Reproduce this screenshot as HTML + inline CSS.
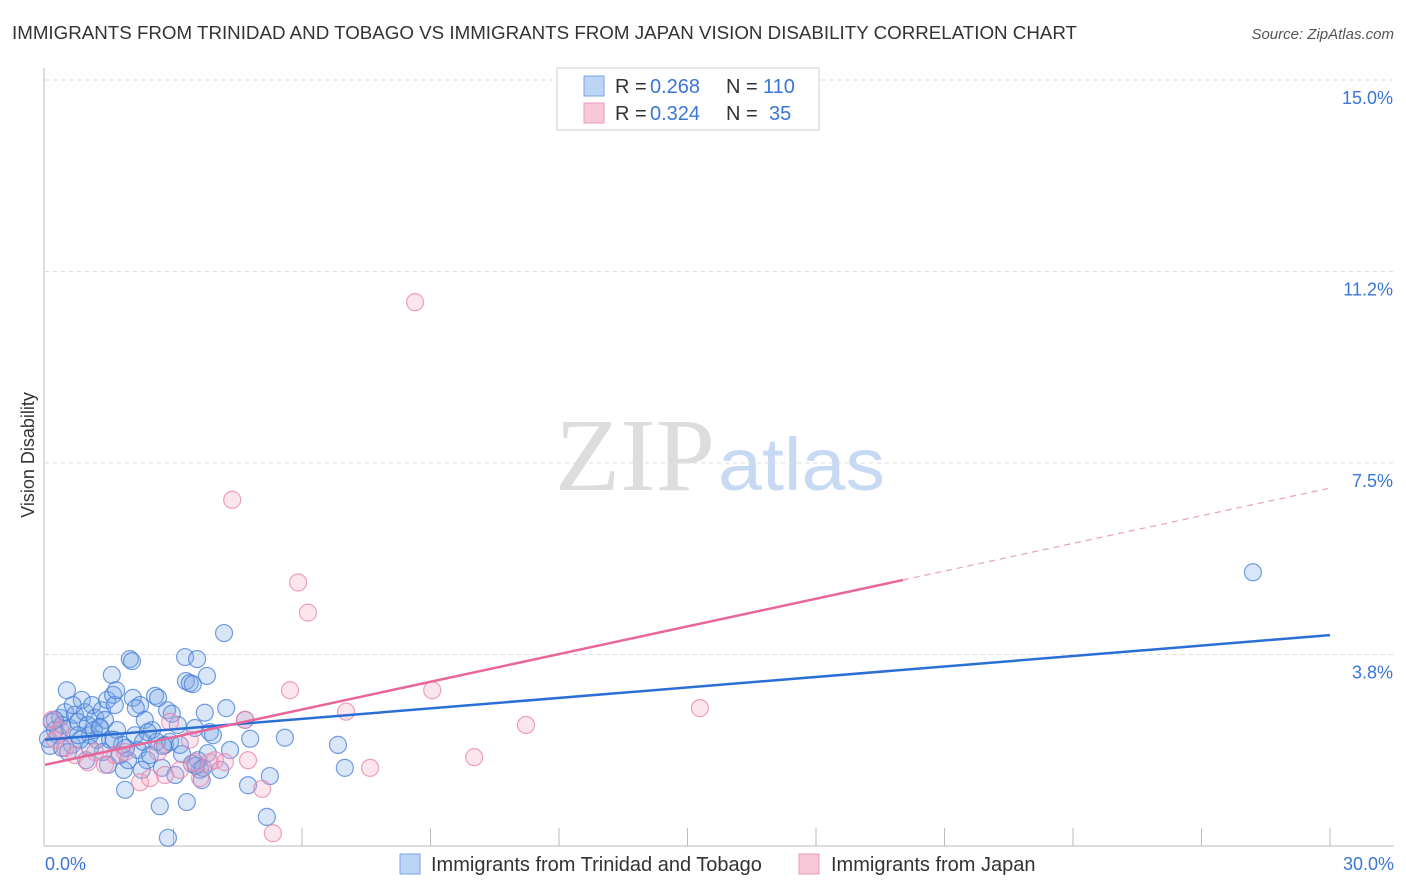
<!DOCTYPE html>
<html><head><meta charset="utf-8"><style>
body{margin:0;background:#fff;font-family:"Liberation Sans",sans-serif;}
svg{display:block}
</style></head><body>
<svg id="chart" width="1406" height="892" xmlns="http://www.w3.org/2000/svg" font-family="Liberation Sans, sans-serif">
<text x="12" y="39" font-size="18" fill="#333" textLength="1065" lengthAdjust="spacingAndGlyphs">IMMIGRANTS FROM TRINIDAD AND TOBAGO VS IMMIGRANTS FROM JAPAN VISION DISABILITY CORRELATION CHART</text>
<text x="1394" y="39" font-size="15" fill="#555" font-style="italic" text-anchor="end">Source: ZipAtlas.com</text>
<text transform="translate(34,455) rotate(-90)" font-size="18" fill="#333" text-anchor="middle">Vision Disability</text>
<text x="555" y="490" font-size="104" fill="#ddd" textLength="160" lengthAdjust="spacingAndGlyphs" font-family="Liberation Serif, serif">ZIP</text>
<text x="718" y="490" font-size="74" fill="#c8daf3" textLength="167" lengthAdjust="spacingAndGlyphs">atlas</text>
<g id="grid"></g>
<g id="axes"></g>
<g id="points"></g>
<g id="trends"></g>
<g>
<rect x="557" y="68" width="262" height="62" fill="#fff" stroke="#ccc"/>
<rect x="584" y="76" width="20" height="20" fill="#bcd4f5" stroke="#7aa5e3"/>
<rect x="584" y="103" width="20" height="20" fill="#f8c8d8" stroke="#ec9bb7"/>
<text x="615" y="93" font-size="20" fill="#333">R =</text>
<text x="650" y="93" font-size="20" fill="#3a76d6">0.268</text>
<text x="726" y="93" font-size="20" fill="#333">N =</text>
<text x="763" y="93" font-size="20" fill="#3a76d6">110</text>
<text x="615" y="120" font-size="20" fill="#333">R =</text>
<text x="650" y="120" font-size="20" fill="#3a76d6">0.324</text>
<text x="726" y="120" font-size="20" fill="#333">N =</text>
<text x="769" y="120" font-size="20" fill="#3a76d6">35</text>
</g>
<g>
<rect x="400" y="854" width="20" height="20" fill="#bcd4f5" stroke="#7aa5e3"/>
<text x="431" y="871" font-size="20" fill="#333">Immigrants from Trinidad and Tobago</text>
<rect x="799" y="854" width="20" height="20" fill="#f8c8d8" stroke="#ec9bb7"/>
<text x="831" y="871" font-size="20" fill="#333">Immigrants from Japan</text>
</g>
</svg>
<script>
const yTicks=[3.75,7.5,11.25,15];
const yTickLabels=["3.8%","7.5%","11.2%","15.0%"];
const xTickLabels=["0.0%","30.0%"];
const blueX=[0.16,0.23,0.30,0.35,0.40,0.47,0.51,0.58,0.63,0.70,0.77,0.82,0.86,0.93,1.00,1.05,1.10,1.17,1.21,1.28,1.33,1.40,1.45,1.52,1.56,1.59,1.63,1.68,1.75,1.80,1.84,1.87,1.94,1.98,2.03,2.05,2.10,2.17,2.22,2.29,2.33,2.38,2.45,2.50,2.57,2.61,2.68,2.73,2.80,2.85,2.87,2.92,3.04,3.10,3.15,3.27,3.29,3.31,3.38,3.45,3.50,3.55,3.57,3.62,3.66,3.73,3.78,3.85,3.92,4.09,4.18,4.23,4.32,4.67,4.74,4.79,5.18,5.25,5.60,6.84,7.00,28.20,0.07,0.12,0.23,0.40,0.54,0.65,0.96,1.14,1.35,1.47,1.66,1.89,2.12,2.26,2.40,2.64,2.75,2.96,3.20,3.43,3.52,3.69,3.80,1.28,0.77,1.05,1.61];
const blueY=[2.43,2.27,2.17,2.51,2.37,2.62,3.05,2.31,1.98,2.57,2.43,2.08,2.86,2.62,2.37,2.17,2.76,2.51,2.08,2.31,2.66,2.47,2.86,2.08,3.35,2.96,2.76,2.27,1.78,1.98,1.49,1.10,1.68,3.66,3.62,2.90,2.17,1.88,2.76,2.04,2.47,1.68,1.78,2.27,2.94,2.04,0.78,1.53,1.98,2.66,0.16,2.04,1.39,2.37,1.98,3.70,3.23,0.86,3.19,3.17,2.31,3.66,1.68,1.49,1.29,2.61,3.33,2.23,2.17,1.49,4.17,2.70,1.88,2.47,1.19,2.10,0.57,1.37,2.12,1.98,1.53,5.36,2.10,1.96,2.47,1.92,1.84,2.76,1.68,2.27,1.84,1.59,3.05,1.92,2.70,1.49,2.23,2.90,1.96,2.59,1.80,1.61,1.57,1.53,1.82,2.33,2.17,1.92,2.08,1.68];
const pinkX=[0.16,0.23,0.35,0.47,0.70,1.00,1.17,1.40,1.63,1.87,2.22,2.45,2.64,2.80,2.92,3.15,3.38,3.50,3.62,3.85,3.97,4.20,4.37,4.67,4.74,5.07,5.32,5.72,5.91,6.14,7.03,7.59,8.64,9.04,10.02,11.23,15.29];
const pinkY=[2.47,2.08,2.27,1.92,1.78,1.64,1.84,1.59,1.78,1.84,1.25,1.33,1.84,1.39,2.43,1.49,2.08,1.64,1.33,1.64,1.68,1.64,6.78,2.47,1.68,1.12,0.25,3.05,5.16,4.57,2.63,1.53,10.65,3.05,1.74,2.37,2.70];
const trendBlue=[2.08,4.13];
const trendPink=[1.59,7.01];
const pinkSolidEnd=20.03;
const NS="http://www.w3.org/2000/svg";
const X0=45,X1=1330,Y0=846,Y1=80;
const sx=v=>X0+(v/30)*(X1-X0);
const sy=v=>Y0-(v/15)*(Y0-Y1);
function mk(tag,attrs,parent){const e=document.createElementNS(NS,tag);for(const k in attrs)e.setAttribute(k,attrs[k]);document.getElementById(parent).appendChild(e);return e;}
yTicks.forEach((t,i)=>{
 const l=mk('line',{x1:X0,x2:1394,y1:sy(t),y2:sy(t),stroke:'#ddd','stroke-dasharray':'4,4'},'grid');
 
 
 const tx=mk('text',{x:1393,y:sy(t)+24,'font-size':18,fill:'#3a76d6','text-anchor':'end'},'axes');
 tx.textContent=yTickLabels[i];
 
 
});
let a=mk('line',{x1:44,x2:44,y1:68,y2:846,stroke:'#bbb'},'axes');


a=mk('line',{x1:44,x2:1394,y1:846,y2:846,stroke:'#bbb'},'axes');


for(let i=1;i<=10;i++){
 const t=mk('line',{x1:sx(i*3),x2:sx(i*3),y1:828,y2:846,stroke:'#bbb'},'axes');
 
 
}
[[0,45,'start'],[30,1394,'end']].forEach((d,i)=>{
 const t=mk('text',{x:d[1],y:870,'font-size':18,fill:'#3a76d6','text-anchor':d[2]},'axes');
 t.textContent=xTickLabels[i];
 
 
});
blueX.forEach((x,i)=>{
 const c=mk('circle',{cx:sx(x),cy:sy(blueY[i]),r:8.5,fill:'rgba(120,165,230,0.28)',stroke:'rgba(70,125,215,0.75)','stroke-width':1.2},'points');
 
 
});
pinkX.forEach((x,i)=>{
 const c=mk('circle',{cx:sx(x),cy:sy(pinkY[i]),r:8.5,fill:'rgba(245,165,195,0.28)',stroke:'rgba(232,130,170,0.75)','stroke-width':1.2},'points');
 
 
});
let tl=mk('line',{x1:sx(0),y1:sy(trendBlue[0]),x2:sx(30),y2:sy(trendBlue[1]),stroke:'#2b6fd6','stroke-width':2.5},'trends');


const py=x=>trendPink[0]+(trendPink[1]-trendPink[0])*x/30;
tl=mk('line',{x1:sx(0),y1:sy(py(0)),x2:sx(pinkSolidEnd),y2:sy(py(pinkSolidEnd)),stroke:'#e8679a','stroke-width':2.5},'trends');


tl=mk('line',{x1:sx(pinkSolidEnd),y1:sy(py(pinkSolidEnd)),x2:sx(30),y2:sy(py(30)),stroke:'#e8a0bc','stroke-width':1.2,'stroke-dasharray':'6,5'},'trends');


</script>
</body></html>
